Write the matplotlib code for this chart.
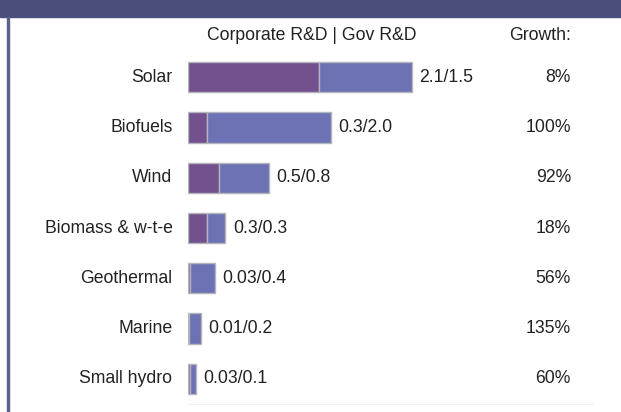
import matplotlib.pyplot as plt
from matplotlib.patches import Rectangle

categories = ["Solar", "Biofuels", "Wind", "Biomass & w-t-e", "Geothermal", "Marine", "Small hydro"]
corporate = [2.1, 0.3, 0.5, 0.3, 0.03, 0.01, 0.03]
gov = [1.5, 2.0, 0.8, 0.3, 0.4, 0.2, 0.1]
value_labels = ["2.1/1.5", "0.3/2.0", "0.5/0.8", "0.3/0.3", "0.03/0.4", "0.01/0.2", "0.03/0.1"]
growth = ["8%", "100%", "92%", "18%", "56%", "135%", "60%"]

plt.rcParams['font.family'] = ['Liberation Sans', 'DejaVu Sans']
W, H = 621, 412
fs = 12.7
fig = plt.figure(figsize=(W / 100, H / 100), dpi=100)

# header band and left rule
fig.patches.append(Rectangle((0, 1 - 17 / H), 1, 17 / H, transform=fig.transFigure,
                             color='#4a4e7c', zorder=0))
fig.patches.append(Rectangle((7 / W, 0), 2 / W, 1 - 17 / H, transform=fig.transFigure,
                             color='#5a5f8e', zorder=0))

ax = fig.add_axes([188 / W, 8 / H, 405 / W, 352 / H])
y = list(range(len(categories)))
edge = '#b4b4bc'
ax.barh(y, corporate, height=0.6, color='#72518e', edgecolor=edge, linewidth=1)
ax.barh(y, gov, left=corporate, height=0.6, color='#6c72b3', edgecolor=edge, linewidth=1)

for i, cat in enumerate(categories):
    total = corporate[i] + gov[i]
    ax.text(total + 0.12, i, value_labels[i], va='center', ha='left', fontsize=fs, color='#222222')
    ax.text(-0.25, i, cat, va='center', ha='right', fontsize=fs, color='#222222')
    ax.text((571 - 188) / 62.2, i, growth[i], va='center', ha='right', fontsize=fs, color='#222222')

ax.set_xlim(0, 405 / 62.2)
ax.set_ylim(6.5, -0.5)
for s in ['top', 'right', 'left']:
    ax.spines[s].set_visible(False)
ax.spines['bottom'].set_color('#f0f0f0')
ax.set_xticks([])
ax.set_yticks([])

fig.text(312 / W, 1 - 36 / H, "Corporate R&D | Gov R&D", ha='center', va='center',
         fontsize=fs, color='#222222')
fig.text(571 / W, 1 - 36 / H, "Growth:", ha='right', va='center', fontsize=fs, color='#222222')

fig.savefig("out.png", dpi=100)
